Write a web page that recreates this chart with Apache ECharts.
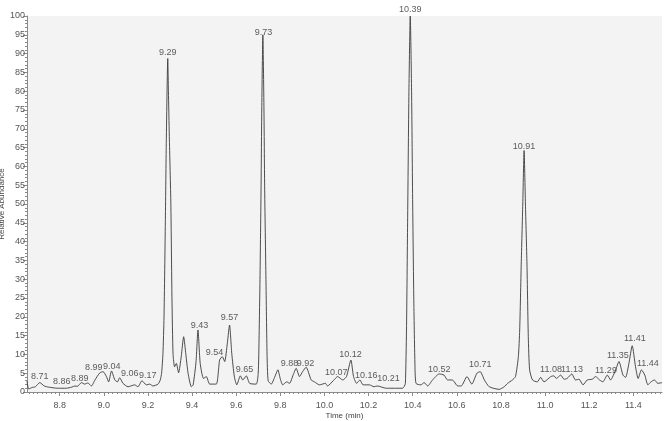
<!DOCTYPE html>
<html>
<head>
<meta charset="utf-8">
<script src="https://cdn.jsdelivr.net/npm/echarts@6/dist/echarts.min.js"></script>
<style>
html,body{margin:0;padding:0;background:#fff;}
#chart{width:670px;height:421px;}
</style>
</head>
<body>
<div id="chart"></div>
<script>
// Retention time (min) of trace points
var times = [8.652,8.66,8.675,8.69,8.71,8.73,8.75,8.79,8.83,8.855,8.869,8.88,8.899,8.913,8.928,8.944,8.96,8.982,8.997,9.012,9.022,9.035,9.05,9.062,9.072,9.087,9.11,9.14,9.155,9.173,9.193,9.208,9.223,9.246,9.256,9.262,9.268,9.273,9.279,9.283,9.29,9.293,9.297,9.304,9.309,9.314,9.321,9.329,9.339,9.351,9.362,9.372,9.382,9.397,9.405,9.418,9.427,9.437,9.452,9.465,9.48,9.51,9.525,9.537,9.548,9.56,9.57,9.58,9.592,9.603,9.619,9.63,9.646,9.661,9.691,9.70,9.704,9.708,9.713,9.716,9.721,9.726,9.729,9.735,9.74,9.745,9.759,9.775,9.789,9.8,9.811,9.829,9.842,9.858,9.872,9.887,9.902,9.917,9.94,9.955,9.977,10.005,10.014,10.04,10.06,10.083,10.1,10.12,10.132,10.146,10.161,10.175,10.204,10.225,10.24,10.28,10.354,10.362,10.367,10.372,10.377,10.383,10.389,10.395,10.4,10.405,10.41,10.415,10.437,10.452,10.468,10.49,10.52,10.542,10.558,10.58,10.604,10.62,10.646,10.668,10.691,10.706,10.725,10.747,10.792,10.815,10.83,10.852,10.866,10.879,10.885,10.892,10.899,10.905,10.911,10.918,10.924,10.93,10.943,10.965,10.98,10.995,11.026,11.04,11.051,11.071,11.086,11.1,11.121,11.138,11.154,11.172,11.191,11.214,11.229,11.247,11.262,11.282,11.297,11.32,11.335,11.353,11.365,11.38,11.395,11.41,11.422,11.437,11.452,11.466,11.48,11.496,11.511,11.53];
// Relative abundance (%) at those times
var abundance = [2.9,0.8,1.2,1.4,2.5,1.6,1.3,1.0,1.0,1.3,1.6,1.5,2.5,2.1,2.4,1.6,3.2,5.1,5.4,4.1,2.7,5.6,3.2,2.7,3.8,2.3,1.4,1.9,1.4,3.0,1.9,2.1,1.6,2.1,3.2,5,10,20,45,65,88.7,80,68,50,25,10,6.7,7.6,5.1,9.4,14.7,10,5,1.4,1.9,8,16.5,7.6,3.6,4.1,2.1,2.1,8.5,9.4,8.1,13,17.8,10.3,4,1.9,4.3,3.2,4.3,2.3,2.1,5,15,30,55,75,95,75,55,30,10,3,2.1,4,5.9,3.5,1.9,2.7,2.3,4.5,6.3,4.1,5.5,6.6,3.2,2.7,1.9,2.3,1.6,3,4.1,3.2,4.1,8.5,4.1,2.3,3.2,1.9,1.9,1.4,1.6,1.0,1.0,1.5,2.3,16.5,45,80,100,80,50,25,8,2.3,1.9,2.5,1.6,3.2,4.8,4.5,3.2,3.2,1.6,1.6,4.1,2.1,5.0,5.4,3.2,1.4,0.7,1.4,2.3,3.2,4.1,9.4,16.5,34,50,64.2,50,34,14.7,5.9,3.2,2.7,3.9,2.7,4.1,4.3,3.6,4.5,3.4,3.6,4.8,3.2,3.4,1.9,3.2,3.4,4.1,3.2,2.7,4.5,3.2,5.9,8.1,4.5,3.9,7.6,12.3,6.7,3.6,5.9,4.5,1.9,2.7,3.2,2.3,2.5];
// Peak annotations: text, and where the text sits (time, abundance)
var peakLabels = ['8.71','8.86','8.89','8.99','9.04','9.06','9.17','9.29','9.43','9.54','9.57','9.65','9.73','9.88','9.92','10.07','10.12','10.16','10.21','10.39','10.52','10.71','10.91','11.08','11.13','11.29','11.35','11.41','11.44'];
var labelTimes = [8.710,8.810,8.891,8.955,9.036,9.118,9.199,9.290,9.434,9.502,9.570,9.638,9.724,9.842,9.914,10.054,10.118,10.190,10.290,10.389,10.520,10.706,10.905,11.027,11.122,11.276,11.330,11.407,11.466];
var labelLevels = [4.0,2.9,3.7,6.6,6.9,4.8,4.5,90.4,17.8,10.6,19.7,6.1,95.7,7.7,7.7,5.1,10.1,4.3,3.7,101.6,6.1,7.2,65.2,5.9,5.9,5.6,9.6,14.1,7.5];
// Axis tick labels
var xTickLabels = [8.8,9.0,9.2,9.4,9.6,9.8,10.0,10.2,10.4,10.6,10.8,11.0,11.2,11.4];
var xMin = 8.652, xMax = 11.53;

var xMinor = [];
for (var i = Math.ceil(xMin * 50); i <= Math.floor(xMax * 50); i++) xMinor.push(+(i / 50).toFixed(2));

var traceData = times.map(function (t, i) { return [t, abundance[i]]; });
var labelData = labelTimes.map(function (t, i) { return [t, labelLevels[i], peakLabels[i]]; });

var FONT = 'Liberation Sans, Arial, sans-serif';
var chart = echarts.init(document.getElementById('chart'), null, {renderer: 'canvas'});
chart.setOption({
  animation: false,
  backgroundColor: '#ffffff',
  grid: {left: 27, right: 8, top: 16, bottom: 29, show: true, backgroundColor: '#f3f3f3', borderWidth: 0,
    containLabel: false, outerBoundsMode: 'none'},
  xAxis: [{
    type: 'value', min: xMin, max: xMax, position: 'bottom',
    name: 'Time (min)', nameLocation: 'middle', nameGap: 20, nameMoveOverlap: false,
    nameTextStyle: {fontSize: 8, color: '#444', fontFamily: FONT},
    axisLine: {show: true, lineStyle: {color: '#8a8a8a', width: 1}},
    axisTick: {show: true, customValues: xTickLabels, length: 4, lineStyle: {color: '#8a8a8a'}},
    axisLabel: {customValues: xTickLabels, fontSize: 9, color: '#555', fontFamily: FONT, margin: 9,
      formatter: function (v) { return (+v).toFixed(1); }},
    splitLine: {show: false}
  }, {
    type: 'value', min: xMin, max: xMax, position: 'bottom', gridIndex: 0,
    axisLine: {show: false},
    axisTick: {show: true, customValues: xMinor, length: 2, lineStyle: {color: '#8a8a8a'}},
    axisLabel: {show: false},
    splitLine: {show: false}
  }],
  yAxis: {
    type: 'value', min: 0, max: 100, interval: 5,
    name: 'Relative Abundance', nameLocation: 'middle', nameGap: 21, nameRotate: 90, nameMoveOverlap: false,
    nameTextStyle: {fontSize: 8, color: '#444', fontFamily: FONT},
    axisLine: {show: true, lineStyle: {color: '#8a8a8a', width: 1}},
    axisTick: {show: true, length: 4, lineStyle: {color: '#8a8a8a'}},
    minorTick: {show: true, splitNumber: 5, length: 2, lineStyle: {color: '#8a8a8a'}},
    axisLabel: {fontSize: 9, color: '#555', fontFamily: FONT, margin: 2},
    splitLine: {show: false}
  },
  series: [{
    type: 'line', xAxisIndex: 0, data: traceData, showSymbol: false, symbol: 'none',
    smooth: 0.2, lineStyle: {color: '#3a3a3a', width: 0.9}, clip: true
  }, {
    type: 'scatter', xAxisIndex: 0, data: labelData, symbolSize: 0, clip: false, silent: true,
    label: {show: true, position: 'inside', fontSize: 9, color: '#333', fontFamily: FONT,
      formatter: function (p) { return p.data[2]; }}
  }]
});
</script>
</body>
</html>
